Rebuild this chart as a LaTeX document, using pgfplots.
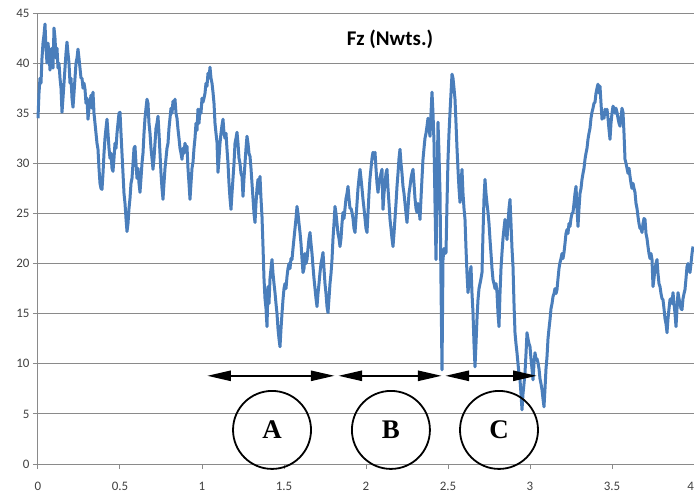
\documentclass[border=0pt]{standalone}
\usepackage{fontspec}
\setmainfont{Carlito}
\newfontfamily\serifA{Liberation Serif}
\usepackage{pgfplots}
\pgfplotsset{compat=1.18}
\usetikzlibrary{arrows.meta}
\definecolor{linecol}{HTML}{4A7EBB}
\definecolor{gridcol}{HTML}{8A8A8A}
\definecolor{labcol}{HTML}{404040}
\begin{document}
\begin{tikzpicture}
\begin{axis}[
  scale only axis, width=656bp, height=451bp,
  at={(0,0)}, anchor=south west,
  xmin=0, xmax=4, ymin=0, ymax=45,
  axis x line*=bottom, axis y line*=left,
  axis line style={draw=gridcol, line width=1bp, -},
  xtick={0,0.5,...,4}, ytick={0,5,...,45},
  xticklabels={0,0.5,1,1.5,2,2.5,3,3.5,\llap{4}},
  ymajorgrids, grid style={draw=gridcol, line width=1bp},
  tick align=outside, major tick length=5bp,
  tick style={draw=gridcol, line width=1bp},
  tick label style={font=\fontsize{13}{15}\selectfont, text=labcol, /pgf/number format/assume math mode=true},
  xticklabel style={yshift=-10bp},
  clip=false,
]
\addplot[linecol, line width=3bp, line join=round] table[row sep=\\, x expr=(\thisrow{p}-38)/164, y=y] {
p y\\
38 34.5\\ 39 37\\ 40 38.5\\ 41 38\\ 42 40.5\\ 43 42\\ 44 42.8\\ 45 43.9\\ 46 41.5\\ 47 40\\
48 42\\ 49 41\\ 50 39.3\\ 51 40.5\\ 52 41.5\\ 53 39.5\\ 54 43.5\\ 55 42.5\\ 56 40.5\\ 57 41.5\\
58 39.5\\ 59 40\\ 60 38.5\\ 61 37.5\\ 62 35.1\\ 63 36.5\\ 64 38\\ 65 39.5\\ 66 41\\ 67 42.1\\
68 41\\ 69 40\\ 70 38\\ 71 38.5\\ 72 36.5\\ 73 35.6\\ 74 37\\ 75 38.5\\ 76 40\\ 77 40.5\\
78 41.4\\ 79 40.5\\ 80 39.5\\ 81 38.5\\ 82 38.5\\ 83 37.5\\ 84 38\\ 85 37.4\\ 86 36\\ 87 36.5\\
88 34.4\\ 89 35.5\\ 90 36\\ 91 36.8\\ 92 35.5\\ 93 37.1\\ 94 35\\ 95 34\\ 96 33\\ 97 32\\
98 31.4\\ 99 29.5\\ 100 28\\ 101 27.5\\ 102 27.4\\ 103 29\\ 104 31\\ 105 32.5\\ 106 33.5\\ 107 34.4\\
108 33\\ 109 31.5\\ 110 30.5\\ 111 31\\ 112 29.5\\ 113 29.2\\ 114 30.5\\ 115 32\\ 116 31.5\\ 117 33\\
118 34\\ 119 35\\ 120 35.1\\ 121 33\\ 122 31\\ 123 29\\ 124 27\\ 125 26\\ 126 24.5\\ 127 23.2\\
128 24\\ 129 25.5\\ 130 26.5\\ 131 28\\ 132 28.5\\ 133 30\\ 134 31.5\\ 135 31.7\\ 136 30\\ 137 28.5\\
138 29.5\\ 139 28\\ 140 27.1\\ 141 28.5\\ 142 30\\ 143 31\\ 144 33\\ 145 34.5\\ 146 35.5\\ 147 36.4\\
148 36\\ 149 34\\ 150 33\\ 151 31.5\\ 152 30.5\\ 153 29.4\\ 154 30.5\\ 155 32\\ 156 33.5\\ 157 34\\
158 34.7\\ 159 33\\ 160 31\\ 161 29\\ 162 27.5\\ 163 26.4\\ 164 28\\ 165 29.5\\ 166 30.5\\ 167 31.5\\
168 32\\ 169 33.5\\ 170 34.5\\ 171 35.5\\ 172 35\\ 173 36.2\\ 174 35.5\\ 175 36.4\\ 176 35\\ 177 34.5\\
178 33.4\\ 179 32.5\\ 180 31.5\\ 181 31\\ 182 30.4\\ 183 31.5\\ 184 31\\ 185 32\\ 186 31.5\\ 187 31.7\\
188 29.5\\ 189 28\\ 190 26.4\\ 191 28\\ 192 29.5\\ 193 30.1\\ 194 31.5\\ 195 32.5\\ 196 34\\ 197 33.3\\
198 35.4\\ 199 34\\ 200 35.4\\ 201 35\\ 202 36.5\\ 203 36.1\\ 204 36.5\\ 205 37\\ 206 38\\ 207 37.7\\
208 39\\ 209 38.5\\ 210 39.6\\ 211 38.5\\ 212 38\\ 213 37.1\\ 214 36\\ 215 34\\ 216 33\\ 217 32.1\\
218 29.1\\ 219 30.5\\ 220 32\\ 221 33\\ 222 33.8\\ 223 34.4\\ 224 33\\ 225 32.5\\ 226 33\\ 227 31.4\\
228 30\\ 229 28\\ 230 26.5\\ 231 25.4\\ 232 27\\ 233 28.5\\ 234 30\\ 235 32\\ 236 32.5\\ 237 33.1\\
238 32\\ 239 30.5\\ 240 30\\ 241 29\\ 242 28.7\\ 243 26.7\\ 244 28.5\\ 245 30\\ 246 31.5\\ 247 32.7\\
248 32\\ 249 31\\ 250 30.7\\ 251 29.5\\ 252 28\\ 253 26.5\\ 254 25\\ 255 24.1\\ 256 26\\ 257 27.5\\
258 28.4\\ 259 27\\ 260 28.7\\ 261 26.5\\ 262 24.7\\ 263 21.7\\ 264 18.5\\ 265 16.5\\ 266 15.5\\ 267 13.7\\
268 17.7\\ 269 16\\ 270 18.5\\ 271 19.5\\ 272 20.4\\ 273 19\\ 274 18\\ 275 17.1\\ 276 16\\ 277 15\\
278 13.5\\ 279 12.5\\ 280 11.7\\ 281 13.5\\ 282 15\\ 283 16.4\\ 284 17.5\\ 285 18\\ 286 17.5\\ 287 18.7\\
288 19.5\\ 289 20\\ 290 19.5\\ 291 20.5\\ 292 20.4\\ 293 21.5\\ 294 22.5\\ 295 23.5\\ 296 24.5\\ 297 25.7\\
298 25\\ 299 24\\ 300 23.1\\ 301 22\\ 302 20.5\\ 303 19.1\\ 304 19.5\\ 305 21\\ 306 20\\ 307 20.4\\
308 21.5\\ 309 22.5\\ 310 23.1\\ 311 22\\ 312 21\\ 313 19.7\\ 314 18.5\\ 315 17.5\\ 316 16.5\\ 317 15.7\\
318 17\\ 319 18\\ 320 19.1\\ 321 20\\ 322 20.5\\ 323 21.1\\ 324 19.5\\ 325 18\\ 326 17\\ 327 15.7\\
328 15.1\\ 329 16.5\\ 330 18\\ 331 19\\ 332 20.4\\ 333 22.5\\ 334 24\\ 335 25.7\\ 336 25\\ 337 24\\
338 23\\ 339 22.5\\ 340 21.7\\ 341 22.5\\ 342 24\\ 343 25.1\\ 344 24.5\\ 345 25.5\\ 346 26.5\\ 347 27\\
348 27.7\\ 349 26.5\\ 350 25.5\\ 351 25.5\\ 352 25.1\\ 353 24.5\\ 354 23.5\\ 355 23.1\\ 356 24.5\\ 357 26\\
358 27.5\\ 359 28.5\\ 360 29.4\\ 361 28.5\\ 362 27.5\\ 363 26.4\\ 364 25.5\\ 365 24.5\\ 366 23.5\\ 367 23.1\\
368 25\\ 369 27\\ 370 28.5\\ 371 29.5\\ 372 30.5\\ 373 31.1\\ 374 30.5\\ 375 31.1\\ 376 29.5\\ 377 28\\
378 27.1\\ 379 28\\ 380 28.5\\ 381 29\\ 382 29.4\\ 383 25.4\\ 384 27\\ 385 28\\ 386 29\\ 387 29.4\\
388 27.5\\ 389 26\\ 390 24.4\\ 391 23.5\\ 392 22.5\\ 393 21.7\\ 394 23\\ 395 24.5\\ 396 26\\ 397 27.7\\
398 29\\ 399 30.5\\ 400 31.4\\ 401 30\\ 402 29\\ 403 27.7\\ 404 27\\ 405 26\\ 406 25\\ 407 24.1\\
408 25.5\\ 409 27\\ 410 27.7\\ 411 28.5\\ 412 29\\ 413 29.4\\ 414 28\\ 415 26.5\\ 416 25.5\\ 417 25.1\\
418 26\\ 419 25.5\\ 420 24.4\\ 421 26.5\\ 422 28.5\\ 423 30.4\\ 424 31.5\\ 425 32.5\\ 426 33\\ 427 33.7\\
428 34.5\\ 429 33.5\\ 430 32.7\\ 431 35\\ 432 37.1\\ 433 35\\ 434 32.1\\ 435 26\\ 436 20.4\\ 437 27\\
438 34.1\\ 439 31\\ 440 27.1\\ 441 18\\ 442 9.4\\ 443 20.4\\ 444 21.5\\ 445 21\\ 446 21.1\\ 447 26\\
448 30.4\\ 449 33\\ 450 35.1\\ 451 37\\ 452 38.9\\ 453 38.5\\ 454 37.5\\ 455 36.4\\ 456 34\\ 457 31.5\\
458 29.4\\ 459 27.5\\ 460 26.1\\ 461 28\\ 462 29.4\\ 463 27\\ 464 25.5\\ 465 24.4\\ 466 21.5\\ 467 19\\
468 17.1\\ 469 18\\ 470 19\\ 471 19.7\\ 472 17\\ 473 15.1\\ 474 12\\ 475 9.7\\ 476 12\\ 477 14.5\\
478 16.4\\ 479 17.5\\ 480 18\\ 481 18.5\\ 482 19.1\\ 483 23\\ 484 26.5\\ 485 28.4\\ 486 27\\ 487 26\\
488 25.1\\ 489 24\\ 490 22.4\\ 491 21\\ 492 19.5\\ 493 18.4\\ 494 18\\ 495 17.5\\ 496 18\\ 497 17.1\\
498 15\\ 499 13.7\\ 500 17\\ 501 19.5\\ 502 21.1\\ 503 22.5\\ 504 23.5\\ 505 24.4\\ 506 23.5\\ 507 22.4\\
508 24\\ 509 25.5\\ 510 26.4\\ 511 24\\ 512 21.5\\ 513 19.7\\ 514 16\\ 515 13.1\\ 516 12\\ 517 11.1\\
518 10\\ 519 9\\ 520 8.4\\ 521 7\\ 522 5.4\\ 523 7\\ 524 8\\ 525 9.1\\ 526 11\\ 527 13.1\\
528 12.5\\ 529 12\\ 530 11.7\\ 531 10.5\\ 532 9.5\\ 533 8.4\\ 534 10\\ 535 11.1\\ 536 10.5\\ 537 10.5\\
538 10.1\\ 539 9.5\\ 540 8.5\\ 541 8\\ 542 7.4\\ 543 6.5\\ 544 5.7\\ 545 7.5\\ 546 9.5\\ 547 10.7\\
548 12.5\\ 549 13.5\\ 550 14.4\\ 551 15.5\\ 552 16\\ 553 16.7\\ 554 17\\ 555 17.5\\ 556 17\\ 557 17.4\\
558 18.5\\ 559 19.5\\ 560 20.1\\ 561 20.5\\ 562 21\\ 563 20.5\\ 564 21.1\\ 565 22\\ 566 23\\ 567 23.4\\
568 23\\ 569 24\\ 570 23.7\\ 571 24.5\\ 572 25\\ 573 25.1\\ 574 26\\ 575 27\\ 576 27.7\\ 577 25.5\\
578 23.7\\ 579 25.5\\ 580 27\\ 581 27.5\\ 582 28.4\\ 583 29\\ 584 29.5\\ 585 30.4\\ 586 31\\ 587 31.5\\
588 32.4\\ 589 33\\ 590 33.5\\ 591 34.5\\ 592 35.1\\ 593 35.5\\ 594 36\\ 595 36.1\\ 596 37\\ 597 37.5\\
598 37.9\\ 599 37\\ 600 37.7\\ 601 36\\ 602 34.4\\ 603 35\\ 604 34.5\\ 605 35.4\\ 606 35\\ 607 35.4\\
608 34.5\\ 609 33.4\\ 610 32.4\\ 611 34\\ 612 35\\ 613 35.7\\ 614 35.5\\ 615 35\\ 616 35.5\\ 617 35.1\\
618 34.5\\ 619 34\\ 620 33.7\\ 621 34.5\\ 622 35.5\\ 623 35.1\\ 624 33\\ 625 30.4\\ 626 30\\ 627 29.5\\
628 29\\ 629 29.5\\ 630 28.7\\ 631 28\\ 632 27.5\\ 633 28\\ 634 27.5\\ 635 27.1\\ 636 26\\ 637 25.5\\
638 24.7\\ 639 24\\ 640 23.5\\ 641 23.5\\ 642 23.1\\ 643 24\\ 644 24.5\\ 645 24.4\\ 646 23\\ 647 22.5\\
648 21.7\\ 649 21\\ 650 20.5\\ 651 21\\ 652 20.4\\ 653 17.7\\ 654 18.5\\ 655 19.5\\ 656 20\\ 657 20.4\\
658 19\\ 659 18\\ 660 17.7\\ 661 17\\ 662 16.5\\ 663 16.4\\ 664 15.5\\ 665 14.5\\ 666 14\\ 667 13.1\\
668 14.5\\ 669 15.5\\ 670 16.4\\ 671 16.5\\ 672 16\\ 673 17.1\\ 674 16\\ 675 15\\ 676 13.7\\ 677 15.5\\
678 17.1\\ 679 16.5\\ 680 16\\ 681 15.5\\ 682 15.4\\ 683 16.5\\ 684 17\\ 685 17.4\\ 686 18.5\\ 687 19.7\\
688 20\\ 689 19.5\\ 690 19.1\\ 691 20\\ 692 21\\ 693 21.7\\
};
% title
\node[font=\bfseries\fontsize{21}{24}\selectfont, text=black] at (axis cs:2.146,42.4) {Fz (Nwts.)};
% arrows
\draw[line width=2.6bp, {Triangle[length=24bp,width=10bp]}-{Triangle[length=24bp,width=10bp]}] (axis cs:1.03,8.8) -- (axis cs:1.81,8.8);
\draw[line width=2.6bp, {Triangle[length=24bp,width=10bp]}-{Triangle[length=24bp,width=10bp]}] (axis cs:1.83,8.8) -- (axis cs:2.463,8.8);
\draw[line width=2.6bp, {Triangle[length=24bp,width=10bp]}-{Triangle[length=24bp,width=10bp]}] (axis cs:2.482,8.8) -- (axis cs:3.043,8.8);
% circles
\draw[line width=1.8bp] (axis cs:1.427,3.4) circle[radius=39bp];
\draw[line width=1.8bp] (axis cs:2.152,3.4) circle[radius=39bp];
\draw[line width=1.8bp] (axis cs:2.811,3.4) circle[radius=39bp];
\node[font=\serifA\bfseries\fontsize{27}{30}\selectfont] at (axis cs:1.427,3.4) {A};
\node[font=\serifA\bfseries\fontsize{27}{30}\selectfont] at (axis cs:2.152,3.4) {B};
\node[font=\serifA\bfseries\fontsize{27}{30}\selectfont] at (axis cs:2.811,3.4) {C};
\end{axis}
\pgfresetboundingbox
\path[use as bounding box] (-38bp,-31bp) rectangle (656bp,464bp);
\end{tikzpicture}
\end{document}
